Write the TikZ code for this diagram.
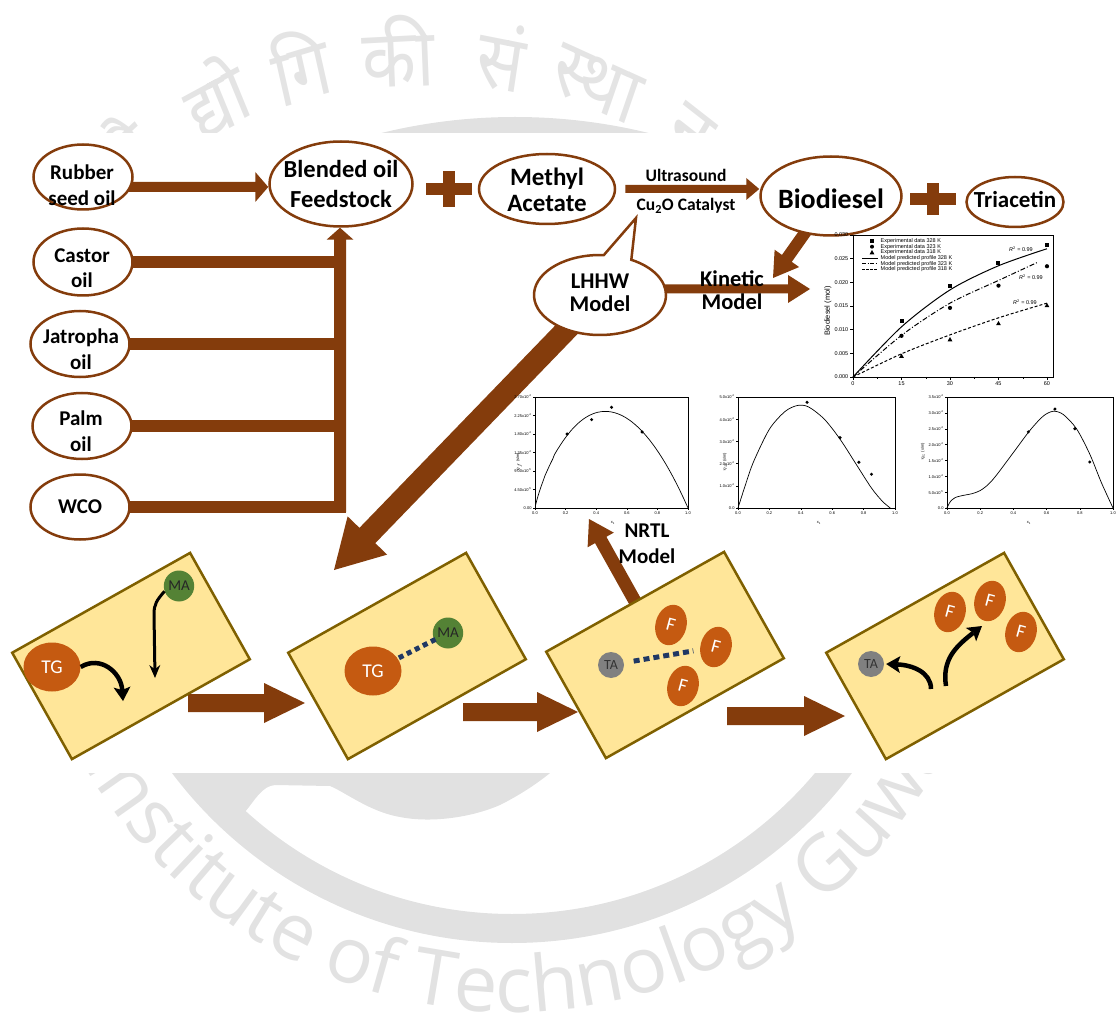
\documentclass[tikz,border=0pt]{standalone}
\usepackage{fontspec}
\setmainfont{Carlito}
\newfontfamily\plotfont{Liberation Sans}
\newfontfamily\wmlatin{Open Sans}
\newfontfamily\wmdeva[Script=Devanagari]{Noto Sans}
\usetikzlibrary{calc,shapes.geometric,shapes.callouts,arrows.meta,decorations.text}
\pgfdeclarelayer{emblem}
\pgfdeclarelayer{links}
\pgfsetlayers{emblem,links,main}

\definecolor{brn}{RGB}{132,60,12}
\definecolor{tgorange}{RGB}{197,90,17}
\definecolor{magreen}{RGB}{84,130,53}
\definecolor{tagray}{RGB}{128,128,128}
\definecolor{boxfill}{RGB}{255,230,153}
\definecolor{boxline}{RGB}{127,96,0}
\definecolor{bondnavy}{RGB}{32,56,100}
\definecolor{wmgray}{RGB}{225,225,225}
\definecolor{wmtext}{RGB}{226,226,226}
\definecolor{wmdevtext}{RGB}{228,228,228}

% filled block arrow: #1 tail, #2 tip, #3 shaft width, #4 head width, #5 head length
\newcommand\blockarrow[5]{%
  \path let \p1=(#1), \p2=(#2) in
    \pgfextra{%
      \pgfmathparse{atan2(\y2-\y1,\x2-\x1)}\xdef\bkang{\pgfmathresult}%
      \pgfmathparse{veclen(\x2-\x1,\y2-\y1)}\xdef\bklen{\pgfmathresult}%
      \xdef\bkx{\x1}\xdef\bky{\y1}};
  \fill[brn,shift={(\bkx,\bky)},rotate=\bkang]
    (0,-#3/2) -- ({\bklen-#5},-#3/2) -- ({\bklen-#5},-#4/2) -- (\bklen,0)
    -- ({\bklen-#5},#4/2) -- ({\bklen-#5},#3/2) -- (0,#3/2) -- cycle;}

\begin{document}
\begin{tikzpicture}[x=1pt,y=-1pt,
  oil/.style={ellipse, draw=brn, line width=2.5pt, fill=white, inner sep=0pt},
  oiltxt/.style={font=\bfseries\fontsize{21pt}{25.5pt}\selectfont, align=center, inner sep=0pt},
  bigtxt/.style={font=\bfseries\fontsize{24.5pt}{30pt}\selectfont, align=center, inner sep=0pt},
  mtxt/.style={font=\bfseries\fontsize{25pt}{26pt}\selectfont, align=center, inner sep=0pt},
  midtxt/.style={font=\bfseries\fontsize{22.5pt}{23pt}\selectfont, align=center, inner sep=0pt},
  smalltxt/.style={font=\bfseries\fontsize{17.5pt}{20pt}\selectfont, inner sep=0pt},
  stage/.style={rectangle, draw=boxline, line width=2.5pt, fill=boxfill, minimum width=204pt, minimum height=122pt, inner sep=0pt, rotate=29.3},
  tg/.style={ellipse, fill=tgorange, inner sep=0pt, minimum width=57pt, minimum height=49pt, text=white, font=\fontsize{19.5pt}{20pt}\selectfont},
  ma/.style={ellipse, fill=magreen, inner sep=0pt, minimum width=28pt, minimum height=31pt, text=black!85, font=\fontsize{15pt}{15pt}\selectfont},
  ta/.style={circle, fill=tagray, inner sep=0pt, minimum size=26pt, text=black!80, font=\fontsize{14pt}{14pt}\selectfont},
  fa/.style={ellipse, fill=tgorange, inner sep=0pt, minimum width=31pt, minimum height=41pt, text=white, font=\fontsize{19pt}{19pt}\selectfont, rotate=-15},
  bond/.style={draw=bondnavy, line width=5pt, dash pattern=on 5pt off 4pt},
  move/.style={draw=black, line width=4.5pt, -{Stealth[length=14pt,width=17pt,inset=3pt,line width=0pt]}},
  plotlbl/.style={font=\plotfont\fontsize{5.5pt}{6pt}\selectfont, inner sep=0.5pt},
  tinylbl/.style={font=\plotfont\fontsize{4pt}{4.5pt}\selectfont, inner sep=0.3pt},
  wmdev/.style={font=\wmdeva\fontsize{70pt}{70pt}\selectfont, text=wmdevtext, inner sep=0pt, yscale=1.15}]
\useasboundingbox (0,0) rectangle (1117,1032);

% ---------------- emblem behind the scheme ----------------
\begin{pgfonlayer}{emblem}
  \begin{scope}
    \clip (0,0) rectangle (1117,133);
    \fill[wmgray] (515,678) circle[radius=561];
  \end{scope}
  \begin{scope}
    \clip (0,400) rectangle (1117,1032);
    \fill[wmgray, even odd rule] (512,518) circle[radius=425] (512,518) circle[radius=396];
  \end{scope}
  \fill[wmgray] (190,700) -- (190,790) -- (245,812) .. controls (255,800) and (262,786) .. (275,785)
    -- (330,786) .. controls (345,792) and (370,812) .. (400,817)
    .. controls (430,823) and (470,818) .. (500,805)
    .. controls (520,795) and (540,782) .. (556,768) -- (556,700) -- cycle;
  \path[decorate, decoration={text along path, text align=center,
      text={|\wmlatin\fontsize{78pt}{78pt}\selectfont\color{wmtext}|Indian Institute of Technology Guwahati}}]
    (512,518) ++(205:494) arc[start angle=205, end angle=-15, radius=494];
  \node[wmdev, rotate=38.7]  (dv1) at (120,155) {प्रौ};
  \node[wmdev, rotate=25.3]  (dv2) at (215,96)  {द्यो};
  \node[wmdev, rotate=14.5]  (dv3) at (300,65)  {गि};
  \node[wmdev, rotate=2.6]   (dv4) at (398,51)  {की};
  \node[wmdev, rotate=-9.8]  (dv5) at (502,57)  {सं};
  \node[wmdev, rotate=-21.6] (dv6) at (597,84)  {स्था};
  \node[wmdev, rotate=-34.2] (dv7) at (690,133) {न};
  \fill[white] (0,133) rectangle (1117,773);
\end{pgfonlayer}

% ---------------- feedstocks ----------------
\node[oil, minimum width=99pt, minimum height=65pt] (rubber) at (83,177) {};
\node[oiltxt] (rubbertxt) at (82,185) {Rubber\\seed oil};
\node[oil, minimum width=99pt, minimum height=67pt] (castor) at (83,262) {};
\node[oiltxt] (castortxt) at (82,268) {Castor\\oil};
\node[oil, minimum width=99pt, minimum height=66pt] (jatropha) at (80,344) {};
\node[oiltxt] (jatrophatxt) at (81,349) {Jatropha\\oil};
\node[oil, minimum width=99pt, minimum height=66pt] (palm) at (82,426) {};
\node[oiltxt] (palmtxt) at (81,431) {Palm\\oil};
\node[oil, minimum width=99pt, minimum height=65pt] (wco) at (80,507) {};
\node[oiltxt] (wcotxt) at (80,507) {WCO};

\node[oil, minimum width=143pt, minimum height=85pt] (blend) at (341,184) {};
\node[bigtxt] (blendtxt) at (341,184) {Blended oil\\Feedstock};

\node[oil, minimum width=136pt, minimum height=70pt] (methyl) at (547,189) {};
\node[mtxt] (methyltxt) at (547,190) {Methyl\\Acetate};

\node[oil, minimum width=141pt, minimum height=79pt] (biodiesel) at (831,196) {};
\node[font=\bfseries\fontsize{28pt}{30pt}\selectfont, inner sep=0pt] (biotxt) at (831,199) {Biodiesel};

\node[oil, minimum width=97pt, minimum height=50pt] (triacetin) at (1015,202) {};
\node[font=\bfseries\fontsize{23pt}{25pt}\selectfont, inner sep=0pt] (tritxt) at (1015,200) {Triacetin};

% plus signs
\fill[brn] (426,183) rectangle (472,195);
\fill[brn] (443,171) rectangle (455,207);
\fill[brn] (910,193) rectangle (956,205);
\fill[brn] (927,183) rectangle (939,215);

\node[smalltxt] (ultra) at (686,175) {Ultrasound};
\node[smalltxt] (cat) at (686,206) {Cu\textsubscript{2}O Catalyst};

\coordinate (lhhwtip) at (636,218);
\node[ellipse callout, draw=brn, line width=2.5pt, fill=white, inner sep=0pt,
      minimum width=132pt, minimum height=80pt,
      callout absolute pointer={(lhhwtip)}, callout pointer arc=25] (lhhw) at (600,295) {};
\node[midtxt] (lhhwtxt) at (600,293) {LHHW\\Model};
\node[midtxt] (kintxt) at (732,290) {Kinetic\\Model};
\node[font=\bfseries\fontsize{21pt}{26pt}\selectfont, align=center, inner sep=0pt] (nrtltxt) at (647,544) {NRTL\\Model};

% ---------------- reaction stages ----------------
\node[stage] (box1) at (131,656) {};
\node[stage] (box2) at (407,656) {};
\node[stage] (box3) at (665,655) {};
\node[stage] (box4) at (945,656) {};

\node[tg] (tg1) at (52,667) {TG};
\node[ma] (ma1) at (179,586) {MA};
\node[tg] (tg2) at (373,671) {TG};
\node[ma] (ma2) at (448,633) {MA};
\node[ta] (ta3) at (611,665) {TA};
\node[fa] (f31) at (671,625) {F};
\node[fa] (f32) at (716,647) {F};
\node[fa] (f33) at (683,686) {F};
\node[ta] (ta4) at (871,664) {TA};
\node[fa] (f41) at (950,612) {F};
\node[fa] (f42) at (990,601) {F};
\node[fa] (f43) at (1021,632) {F};

\coordinate (m1end) at (123,701);
\coordinate (m2end) at (155,678);
\coordinate (m3start) at (931,689);
\coordinate (m4start) at (946,686);
\coordinate (m4end) at (982,626);
\draw[move] (tg1.east) .. controls (100,655) and (121,672) .. (m1end);
\draw[move, line width=3pt, -{Stealth[length=13pt,width=11pt,line width=0pt]}]
  (ma1.200) .. controls (157,600) and (154,604) .. (154,614) -- (m2end);
\draw[move] (m3start) .. controls (931,672) and (912,665) .. ([xshift=2pt]ta4.east);
\draw[move] (m4start) .. controls (942,660) and (955,647) .. (m4end);

\draw[bond, shorten <=29pt, shorten >=14pt] (tg2.center) -- (ma2.center);
\draw[bond, dash pattern=on 6pt off 4pt, shorten <=23pt, shorten >=23pt] (ta3.center) -- (f32.center);

% ---------------- kinetic plot ----------------
\begin{scope}[shift={(853pt,-377pt)}, x=3.233pt, y=4.733pt]
  \draw[line width=0.7pt] (0,0) rectangle (61.9,30);
  \foreach \t [count=\k] in {0,15,30,45,60} {
    \draw[line width=0.5pt] (\t,0) -- ++(0pt,-3pt);
    \node[plotlbl, anchor=north, yshift=-4pt] (kx\k) at (\t,0) {\t};
  }
  \foreach \t in {7.5,22.5,37.5,52.5} \draw[line width=0.4pt] (\t,0) -- ++(0pt,-2pt);
  \foreach \v/\l [count=\k] in {0/0.000,5/0.005,10/0.010,15/0.015,20/0.020,25/0.025,30/0.030} {
    \draw[line width=0.5pt] (0,\v) -- ++(-3pt,0pt);
    \node[plotlbl, anchor=east, xshift=-4pt] (ky\k) at (0,\v) {\l};
  }
  \draw[line width=1pt] plot[smooth] coordinates {(0,0) (15,10.6) (30,18.4) (45,23.5) (60,27.1)};
  \draw[line width=1pt, dash pattern=on 5pt off 2pt on 1pt off 2pt] plot[smooth] coordinates {(0,0) (15,8.8) (30,15.6) (45,20.4) (57,24.2)};
  \draw[line width=1pt, dash pattern=on 3pt off 2pt] plot[smooth] coordinates {(0,0) (15,4.9) (30,8.9) (45,12.5) (60,15.6)};
  \foreach \t/\v in {15/11.8,30/19.2,45/24.0,60/27.9}
    \fill (\t,\v) ++(-2pt,-2pt) rectangle ++(4pt,4pt);
  \foreach \t/\v in {15/8.7,30/14.6,45/19.3,60/23.4}
    \fill (\t,\v) circle[radius=2.1pt];
  \foreach \t/\v in {15/4.4,30/7.9,45/11.3,60/15.1}
    \fill (\t,\v) ++(0pt,2.6pt) -- ++(-2.4pt,-4.3pt) -- ++(4.8pt,0pt) -- cycle;
\end{scope}
\node[font=\plotfont\fontsize{7.5pt}{8pt}\selectfont, rotate=90, inner sep=0pt] (kylab) at (828,311) {Biodiesel (mol)};
% legend
\fill (870,239) rectangle (874,243);
\fill (872,246.7) circle[radius=2pt];
\fill (872,250) -- (869.6,254.3) -- (874.4,254.3) -- cycle;
\draw[line width=0.9pt] (862,258.1) -- (878,258.1);
\draw[line width=0.9pt, dash pattern=on 4pt off 1.5pt on 1pt off 1.5pt] (862,263.8) -- (878,263.8);
\draw[line width=0.9pt, dash pattern=on 2.5pt off 1.5pt] (862,269.5) -- (878,269.5);
\node[plotlbl, anchor=west] (lg1) at (880,241) {Experimental data 328 K};
\node[plotlbl, anchor=west] (lg2) at (880,246.7) {Experimental data 323 K};
\node[plotlbl, anchor=west] (lg3) at (880,252.4) {Experimental data 318 K};
\node[plotlbl, anchor=west] (lg4) at (880,258.1) {Model predicted profile 328 K};
\node[plotlbl, anchor=west] (lg5) at (880,263.8) {Model predicted profile 323 K};
\node[plotlbl, anchor=west] (lg6) at (880,269.5) {Model predicted profile 318 K};
\node[plotlbl] (r1) at (1021,249) {{\itshape R}\textsuperscript{2} = 0.99};
\node[plotlbl] (r2) at (1031,277) {{\itshape R}\textsuperscript{2} = 0.99};
\node[plotlbl] (r3) at (1025,302) {{\itshape R}\textsuperscript{2} = 0.99};

% ---------------- NRTL plots ----------------
\begin{scope}[shift={(535pt,-508pt)}, x=153pt, y=41.1pt]
  \draw[line width=0.6pt] (0,0) rectangle (1,2.7);
  \foreach \t [count=\k] in {0.0,0.2,0.4,0.6,0.8,1.0} {
    \draw[line width=0.4pt] (\t,0) -- ++(0pt,-2pt);
    \node[tinylbl, anchor=north, yshift=-3pt] (ax\k) at (\t,0) {\t};
  }
  \foreach \v/\l [count=\k] in {0/0.00,0.45/4.50x10\textsuperscript{-5},0.9/9.00x10\textsuperscript{-5},1.35/1.35x10\textsuperscript{-4},1.8/1.80x10\textsuperscript{-4},2.25/2.25x10\textsuperscript{-4},2.7/2.70x10\textsuperscript{-4}} {
    \draw[line width=0.4pt] (0,\v) -- ++(-2pt,0pt);
    \node[tinylbl, anchor=east, xshift=-3pt] (ay\k) at (0,\v) {\l};
  }
  \draw[line width=0.7pt] plot[domain=0.002:1, samples=80, smooth] (\x,{8.42*pow(\x,0.85)*(1-\x)});
  \foreach \t/\v in {0.21/1.80,0.37/2.15,0.50/2.45,0.70/1.85} \fill (\t,\v) circle[radius=1.7pt];
\end{scope}
\node[tinylbl, rotate=90] (aylab) at (519,462) {$\eta_f$ (s/m)};
\node[tinylbl] (axlab) at (613,523) {x\textsubscript{1}};

\begin{scope}[shift={(738pt,-508pt)}, x=157pt, y=22.2pt]
  \draw[line width=0.6pt] (0,0) rectangle (1,5);
  \foreach \t [count=\k] in {0.0,0.2,0.4,0.6,0.8,1.0} {
    \draw[line width=0.4pt] (\t,0) -- ++(0pt,-2pt);
    \node[tinylbl, anchor=north, yshift=-3pt] (bx\k) at (\t,0) {\t};
  }
  \foreach \v/\l [count=\k] in {0/0.0,1/1.0x10\textsuperscript{-4},2/2.0x10\textsuperscript{-4},3/3.0x10\textsuperscript{-4},4/4.0x10\textsuperscript{-4},5/5.0x10\textsuperscript{-4}} {
    \draw[line width=0.4pt] (0,\v) -- ++(-2pt,0pt);
    \node[tinylbl, anchor=east, xshift=-3pt] (by\k) at (0,\v) {\l};
  }
  \draw[line width=0.7pt] plot[smooth] coordinates {(0,0) (0.05,1.1) (0.1,2.1) (0.2,3.55) (0.3,4.35) (0.38,4.62) (0.45,4.55) (0.55,4.0) (0.65,3.1) (0.75,2.0) (0.85,0.9) (0.92,0.3) (0.97,0)};
  \foreach \t/\v in {0.44/4.76,0.65/3.17,0.77/2.06,0.85/1.52} \fill (\t,\v) circle[radius=1.7pt];
\end{scope}
\node[tinylbl, rotate=90] (bylab) at (725,462) {$\eta_x$ (s/m)};
\node[tinylbl] (bxlab) at (819,523) {x\textsubscript{1}};

\begin{scope}[shift={(947pt,-508pt)}, x=166pt, y=31.71pt]
  \draw[line width=0.6pt] (0,0) rectangle (1,3.5);
  \foreach \t [count=\k] in {0.0,0.2,0.4,0.6,0.8,1.0} {
    \draw[line width=0.4pt] (\t,0) -- ++(0pt,-2pt);
    \node[tinylbl, anchor=north, yshift=-3pt] (cx\k) at (\t,0) {\t};
  }
  \foreach \v/\l [count=\k] in {0/0.0,0.5/5.0x10\textsuperscript{-5},1/1.0x10\textsuperscript{-4},1.5/1.5x10\textsuperscript{-4},2/2.0x10\textsuperscript{-4},2.5/2.5x10\textsuperscript{-4},3/3.0x10\textsuperscript{-4},3.5/3.5x10\textsuperscript{-4}} {
    \draw[line width=0.4pt] (0,\v) -- ++(-2pt,0pt);
    \node[tinylbl, anchor=east, xshift=-3pt] (cy\k) at (0,\v) {\l};
  }
  \draw[line width=0.7pt] plot[smooth] coordinates {(0,0) (0.02,0.2) (0.05,0.33) (0.1,0.4) (0.15,0.45) (0.2,0.55) (0.25,0.75) (0.3,1.05) (0.4,1.75) (0.5,2.45) (0.58,2.9) (0.64,3.05) (0.7,2.95) (0.78,2.5) (0.86,1.7) (0.93,0.8) (1.0,0)};
  \foreach \t/\v in {0.49/2.4,0.65/3.12,0.77/2.5,0.86/1.45} \fill (\t,\v) circle[radius=1.7pt];
\end{scope}
\node[tinylbl, rotate=90] (cylab) at (923,452) {$\eta_c$ (s/m)};
\node[tinylbl] (cxlab) at (1029,523) {x\textsubscript{1}};

% ---------------- connectors ----------------
\coordinate (kintip) at (773,278);
\coordinate (kintip2) at (810,289);
\coordinate (bigtip) at (334,570);
\coordinate (nrtltip) at (589,519);
\coordinate (busbot) at (340,512);
\coordinate (busedge) at (346,512);
\begin{pgfonlayer}{links}
  \blockarrow{[yshift=-10pt]rubber.center}{[yshift=-3pt]blend.west}{10}{30}{13}
  \foreach \src in {castor,jatropha,palm,wco}
    \draw[brn, line width=12pt] (\src.center) -- (\src.center -| busedge);
  \blockarrow{busbot}{blend.south -| busbot}{12}{27}{12}
  \blockarrow{[xshift=9pt]methyl.east}{biodiesel.west |- methyl.east}{8}{22}{13}
  \blockarrow{biodiesel.center}{kintip}{12}{30}{24}
  \blockarrow{[yshift=6pt]lhhw.center}{kintip2}{9}{28}{22}
  \blockarrow{lhhw.center}{bigtip}{22}{55}{48}
  \blockarrow{box3.center}{nrtltip}{13}{30}{24}
  \blockarrow{$(box1)+(57,47)$}{$(box2)+(-102,47)$}{18}{40}{41}
  \blockarrow{$(box2)+(56,56)$}{$(box3)+(-87,57)$}{18}{40}{41}
  \blockarrow{$(box3)+(62,61)$}{$(box4)+(-100,60)$}{18}{40}{41}
\end{pgfonlayer}
\end{tikzpicture}
\end{document}
